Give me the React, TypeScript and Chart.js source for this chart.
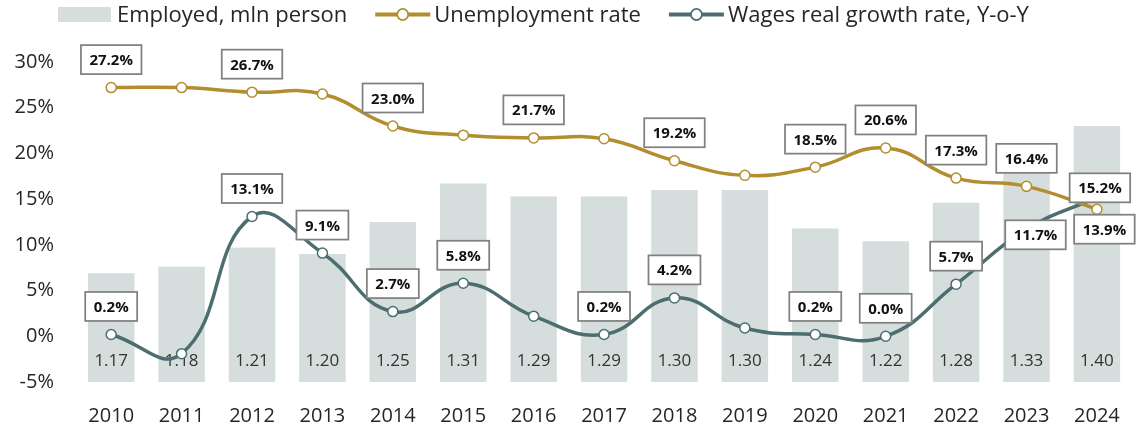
import React, { useEffect, useRef } from 'react';
import { Chart, registerables } from 'chart.js';

Chart.register(...registerables);

const YEARS = ['2010', '2011', '2012', '2013', '2014', '2015', '2016', '2017', '2018', '2019', '2020', '2021', '2022', '2023', '2024'];
const EMPLOYED = [1.17, 1.18, 1.21, 1.2, 1.25, 1.31, 1.29, 1.29, 1.3, 1.3, 1.24, 1.22, 1.28, 1.33, 1.4];
const UNEMPLOYMENT = [27.2, 27.2, 26.7, 26.5, 23.0, 22.0, 21.7, 21.6, 19.2, 17.6, 18.5, 20.6, 17.3, 16.4, 13.9];
const WAGES = [0.2, -1.9, 13.1, 9.1, 2.7, 5.8, 2.2, 0.2, 4.2, 0.9, 0.2, 0.0, 5.7, 11.7, 15.2];
const Y_TICKS = [-5, 0, 5, 10, 15, 20, 25, 30];
const UNEMP_LABELED = [true, false, true, false, true, false, true, false, true, false, true, true, true, true, true];
const WAGES_LABELED = [true, false, true, true, true, true, false, true, true, false, true, true, true, true, true];

const SERIES_NAMES = ['Employed, mln person', 'Unemployment rate', 'Wages real growth rate, Y-o-Y'];

const BAR_COLOR = '#D5DEDC';
const GOLD = '#B38E2E';
const TEAL = '#4D6E70';
const TEXT = '#262626';
const FONT = '"Open Sans", "Noto Sans", sans-serif';

// label offsets (styling): default centered 28px above the point
const UNEMP_OFFSETS: Record<number, [number, number]> = { 14: [7.5, 20] };
const WAGES_OFFSETS: Record<number, [number, number]> = { 13: [9, 5.5], 14: [3, -9.5] };

const drawBarValues = (chart: any) => {
  const ctx = chart.ctx;
  const meta = chart.getDatasetMeta(0);
  const bottom = chart.scales.y2 ? chart.scales.y2.bottom : chart.chartArea.bottom;
  ctx.save();
  ctx.font = `17px ${FONT}`;
  ctx.fillStyle = '#333333';
  ctx.textAlign = 'center';
  ctx.textBaseline = 'alphabetic';
  meta.data.forEach((el: any, i: number) => {
    const v = Number(chart.data.datasets[0].data[i]);
    ctx.fillText(v.toFixed(2), el.x, bottom - 16);
  });
  ctx.restore();
};

const boxLabelsPlugin = {
  id: 'boxLabels',
  beforeDatasetDraw(chart: any, args: any) {
    // wages line (index 2) is drawn right after the bars
    if (args && args.index === 2) drawBarValues(chart);
  },
  afterDatasetsDraw(chart: any) {
    const ctx = chart.ctx;
    const drawBox = (x: number, y: number, text: string) => {
      ctx.font = `bold 15px ${FONT}`;
      const w = ctx.measureText(text).width + 17;
      const h = 29;
      ctx.fillStyle = '#ffffff';
      ctx.fillRect(x - w / 2, y - h / 2, w, h);
      ctx.strokeStyle = '#808080';
      ctx.lineWidth = 1.75;
      ctx.strokeRect(x - w / 2, y - h / 2, w, h);
      ctx.fillStyle = '#111111';
      ctx.textAlign = 'center';
      ctx.textBaseline = 'alphabetic';
      ctx.fillText(text, x, y + 5.5);
    };
    ctx.save();
    const groups: [number, boolean[], Record<number, [number, number]>][] = [
      [1, UNEMP_LABELED, UNEMP_OFFSETS],
      [2, WAGES_LABELED, WAGES_OFFSETS],
    ];
    groups.forEach(([di, shown, offs]) => {
      const meta = chart.getDatasetMeta(di);
      meta.data.forEach((el: any, i: number) => {
        if (!shown[i]) return;
        const v = Number(chart.data.datasets[di].data[i]);
        const [dx, dy] = offs[i] || [0, -28];
        drawBox(el.x + dx, el.y + dy, v.toFixed(1) + '%');
      });
    });
    ctx.restore();
  },
  afterDraw(chart: any) {
    const ctx = chart.ctx;
    ctx.save();
    ctx.font = `22px ${FONT}`;
    ctx.textBaseline = 'alphabetic';
    ctx.textAlign = 'left';
    const cy = 14.5;
    let x = 58;
    chart.data.datasets.forEach((ds: any, i: number) => {
      if (i === 0) {
        ctx.fillStyle = BAR_COLOR;
        ctx.fillRect(x, 7, 53, 15);
        x += 53 + 6;
      } else {
        const w = 55;
        ctx.strokeStyle = ds.borderColor;
        ctx.lineWidth = 4;
        ctx.beginPath();
        ctx.moveTo(x, cy);
        ctx.lineTo(x + w, cy);
        ctx.stroke();
        ctx.beginPath();
        ctx.arc(x + w / 2, cy, 5.5, 0, Math.PI * 2);
        ctx.fillStyle = '#ffffff';
        ctx.fill();
        ctx.lineWidth = 1.75;
        ctx.stroke();
        x += w + 4;
      }
      ctx.fillStyle = TEXT;
      ctx.fillText(ds.label, x, 21.5);
      x += ctx.measureText(ds.label).width + 28;
    });
    ctx.restore();
  },
};

export default function App() {
  const ref = useRef<HTMLCanvasElement | null>(null);
  useEffect(() => {
    if (!ref.current) return;
    const chart = new Chart(ref.current, {
      data: {
        labels: YEARS,
        datasets: [
          {
            type: 'bar',
            label: SERIES_NAMES[0],
            data: EMPLOYED,
            backgroundColor: BAR_COLOR,
            yAxisID: 'y2',
            order: 3,
            barPercentage: 1,
            categoryPercentage: 0.66,
          },
          {
            type: 'line',
            label: SERIES_NAMES[1],
            data: UNEMPLOYMENT,
            borderColor: GOLD,
            backgroundColor: '#ffffff',
            borderWidth: 3.5,
            tension: 0.45,
            pointRadius: 5,
            pointBorderWidth: 1.5,
            pointBackgroundColor: '#ffffff',
            pointBorderColor: GOLD,
            yAxisID: 'y',
            order: 1,
          },
          {
            type: 'line',
            label: SERIES_NAMES[2],
            data: WAGES,
            borderColor: TEAL,
            backgroundColor: '#ffffff',
            borderWidth: 3.5,
            tension: 0.45,
            pointRadius: 5,
            pointBorderWidth: 1.5,
            pointBackgroundColor: '#ffffff',
            pointBorderColor: TEAL,
            yAxisID: 'y',
            order: 2,
          },
        ],
      } as any,
      options: {
        responsive: false,
        animation: false,
        layout: { padding: { top: 62, right: 3, left: 0, bottom: 0 } },
        plugins: { legend: { display: false }, tooltip: { enabled: false } },
        scales: {
          x: {
            offset: true,
            grid: { display: false, drawTicks: false },
            border: { display: false },
            ticks: { color: TEXT, font: { family: FONT, size: 20 }, padding: 22 },
            afterFit: (s: any) => { s.height = 44; },
          },
          y: {
            min: -5,
            max: 30,
            afterBuildTicks: (s: any) => { s.ticks = Y_TICKS.map((v) => ({ value: v })); },
            grid: { display: false, drawTicks: false },
            border: { display: false },
            ticks: {
              color: TEXT,
              font: { family: FONT, size: 20 },
              padding: 22,
              callback: (v: any) => `${v}%`,
            },
            afterFit: (s: any) => { s.width = 76; },
          },
          y2: { display: false, min: 1.0, max: 1.5, position: 'right' },
        },
      } as any,
      plugins: [boxLabelsPlugin],
    });
    return () => chart.destroy();
  }, []);
  return (
    <div style={{ position: 'absolute', left: 0, top: 0, width: 1142, height: 426, background: '#ffffff' }}>
      <canvas ref={ref} width={1142} height={426} style={{ width: 1142, height: 426 }} />
    </div>
  );
}
